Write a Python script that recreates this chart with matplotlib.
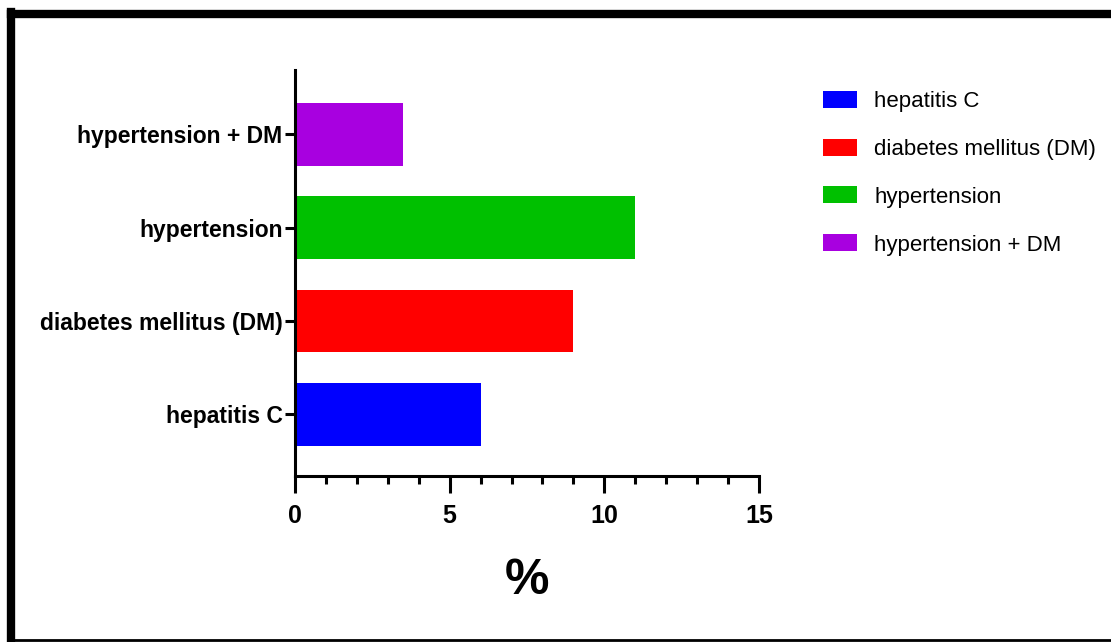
import matplotlib.pyplot as plt
from matplotlib.lines import Line2D
from matplotlib.patches import Patch
from matplotlib import font_manager

## Data

categories = ["hepatitis C", "diabetes mellitus (DM)", "hypertension", "hypertension + DM"]
percent = [6.0, 9.0, 11.0, 3.5]
colors = ["#0000FF", "#FF0000", "#00C000", "#A800E0"]

names = {f.name for f in font_manager.fontManager.ttflist}
family = "Liberation Sans Narrow" if "Liberation Sans Narrow" in names else "Liberation Sans"
plt.rcParams["font.family"] = [family, "DejaVu Sans"]

## Plot

fig = plt.figure(figsize=(11.11, 6.42), dpi=100)
ax = fig.add_axes([0.2655, 0.2586, 0.4177, 0.6324])

pos = range(len(categories))
ax.barh(pos, percent, height=0.67, color=colors)

ax.set_xlim(0, 15)
ax.set_ylim(-0.66, 3.69)
ax.set_xticks([0, 5, 10, 15])
ax.set_xticks(range(16), minor=True)
ax.set_yticks(list(pos))
ax.set_yticklabels(categories, fontsize=16.5, fontweight="bold")
for lab in ax.get_xticklabels():
    lab.set_fontsize(18)
    lab.set_fontweight("bold")

for s in ["top", "right"]:
    ax.spines[s].set_visible(False)
for s in ["left", "bottom"]:
    ax.spines[s].set_linewidth(2.2)

ax.tick_params(axis="x", which="major", length=12, width=2.2, pad=8)
ax.tick_params(axis="x", which="minor", length=6, width=2.2)
ax.tick_params(axis="y", which="major", length=7, width=2.2, pad=2)

ax.set_xlabel("%", fontsize=36, fontweight="bold", labelpad=22)

handles = [Patch(facecolor=c, edgecolor="none") for c in colors]
fig.legend(handles, categories, loc="upper left", bbox_to_anchor=(0.723, 0.89),
           frameon=False, fontsize=16, handlelength=1.5, handleheight=0.8,
           labelspacing=1.2, handletextpad=0.8)

# frame around the figure (top, left, bottom)
fig.add_artist(Line2D([0.0095, 1.0], [0.978, 0.978], color="black", lw=6, transform=fig.transFigure))
fig.add_artist(Line2D([0.0095, 0.0095], [0.002, 0.981], color="black", lw=6, transform=fig.transFigure))
fig.add_artist(Line2D([0.0095, 1.0], [0.003, 0.003], color="black", lw=2, transform=fig.transFigure))

fig.savefig("out.png", dpi=100)
